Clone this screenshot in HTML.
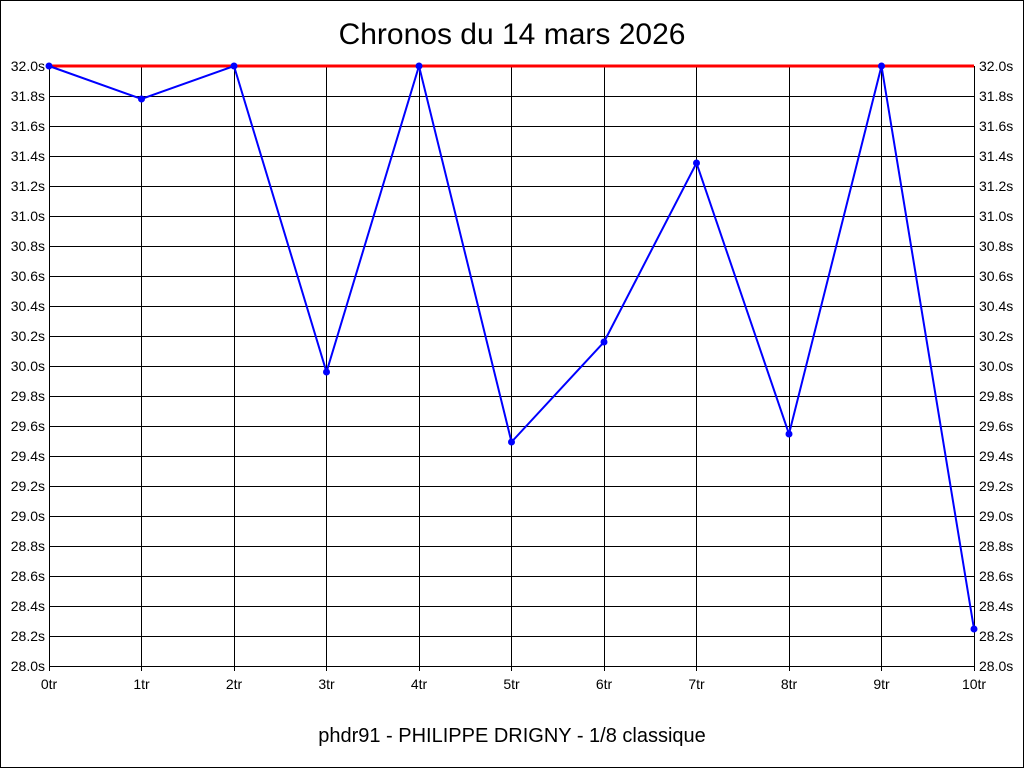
<!DOCTYPE html>
<html><head><style>
html,body{margin:0;padding:0;background:#fff;}
svg{display:block;}
text{font-family:"Liberation Sans",sans-serif;}
</style></head><body>
<svg width="1024" height="768" xmlns="http://www.w3.org/2000/svg">
<rect x="0.5" y="0.5" width="1023" height="767" fill="#fff" stroke="#000"/>
<text x="512" y="44" font-size="30" text-anchor="middle">Chronos du 14 mars 2026</text>
<g stroke="#000" stroke-width="1">
<path d="M49 66.5H974M49 96.5H974M49 126.5H974M49 156.5H974M49 186.5H974M49 216.5H974M49 246.5H974M49 276.5H974M49 306.5H974M49 336.5H974M49 366.5H974M49 396.5H974M49 426.5H974M49 456.5H974M49 486.5H974M49 516.5H974M49 546.5H974M49 576.5H974M49 606.5H974M49 636.5H974M49 666.5H974"/>
<path d="M49.5 66V671M141.5 66V671M234.5 66V671M326.5 66V671M419.5 66V671M511.5 66V671M604.5 66V671M696.5 66V671M789.5 66V671M881.5 66V671M974.5 66V671"/>
</g>
<g font-size="14" text-anchor="end">
<text x="45" y="71">32.0s</text><text x="45" y="101">31.8s</text><text x="45" y="131">31.6s</text><text x="45" y="161">31.4s</text><text x="45" y="191">31.2s</text><text x="45" y="221">31.0s</text><text x="45" y="251">30.8s</text><text x="45" y="281">30.6s</text><text x="45" y="311">30.4s</text><text x="45" y="341">30.2s</text><text x="45" y="371">30.0s</text><text x="45" y="401">29.8s</text><text x="45" y="431">29.6s</text><text x="45" y="461">29.4s</text><text x="45" y="491">29.2s</text><text x="45" y="521">29.0s</text><text x="45" y="551">28.8s</text><text x="45" y="581">28.6s</text><text x="45" y="611">28.4s</text><text x="45" y="641">28.2s</text><text x="45" y="671">28.0s</text>
</g>
<g font-size="14" text-anchor="start">
<text x="979" y="71">32.0s</text><text x="979" y="101">31.8s</text><text x="979" y="131">31.6s</text><text x="979" y="161">31.4s</text><text x="979" y="191">31.2s</text><text x="979" y="221">31.0s</text><text x="979" y="251">30.8s</text><text x="979" y="281">30.6s</text><text x="979" y="311">30.4s</text><text x="979" y="341">30.2s</text><text x="979" y="371">30.0s</text><text x="979" y="401">29.8s</text><text x="979" y="431">29.6s</text><text x="979" y="461">29.4s</text><text x="979" y="491">29.2s</text><text x="979" y="521">29.0s</text><text x="979" y="551">28.8s</text><text x="979" y="581">28.6s</text><text x="979" y="611">28.4s</text><text x="979" y="641">28.2s</text><text x="979" y="671">28.0s</text>
</g>
<g font-size="14" text-anchor="middle">
<text x="49" y="689">0tr</text><text x="141.5" y="689">1tr</text><text x="234" y="689">2tr</text><text x="326.5" y="689">3tr</text><text x="419" y="689">4tr</text><text x="511.5" y="689">5tr</text><text x="604" y="689">6tr</text><text x="696.5" y="689">7tr</text><text x="789" y="689">8tr</text><text x="881.5" y="689">9tr</text><text x="974" y="689">10tr</text>
</g>
<line x1="49" y1="66" x2="974" y2="66" stroke="#f00" stroke-width="3"/>
<polyline fill="none" stroke="#00f" stroke-width="2" points="49,66 141.5,99 234,66 326.5,372 419,66 511.5,442 604,342 696.5,163 789,434 881.5,66 974,629"/>
<g fill="#00f">
<circle cx="49" cy="66" r="3.5"/><circle cx="141.5" cy="99" r="3.5"/><circle cx="234" cy="66" r="3.5"/><circle cx="326.5" cy="372" r="3.5"/><circle cx="419" cy="66" r="3.5"/><circle cx="511.5" cy="442" r="3.5"/><circle cx="604" cy="342" r="3.5"/><circle cx="696.5" cy="163" r="3.5"/><circle cx="789" cy="434" r="3.5"/><circle cx="881.5" cy="66" r="3.5"/><circle cx="974" cy="629" r="3.5"/>
</g>
<text x="512" y="742" font-size="20" text-anchor="middle">phdr91 - PHILIPPE DRIGNY - 1/8 classique</text>
</svg>
</body></html>
